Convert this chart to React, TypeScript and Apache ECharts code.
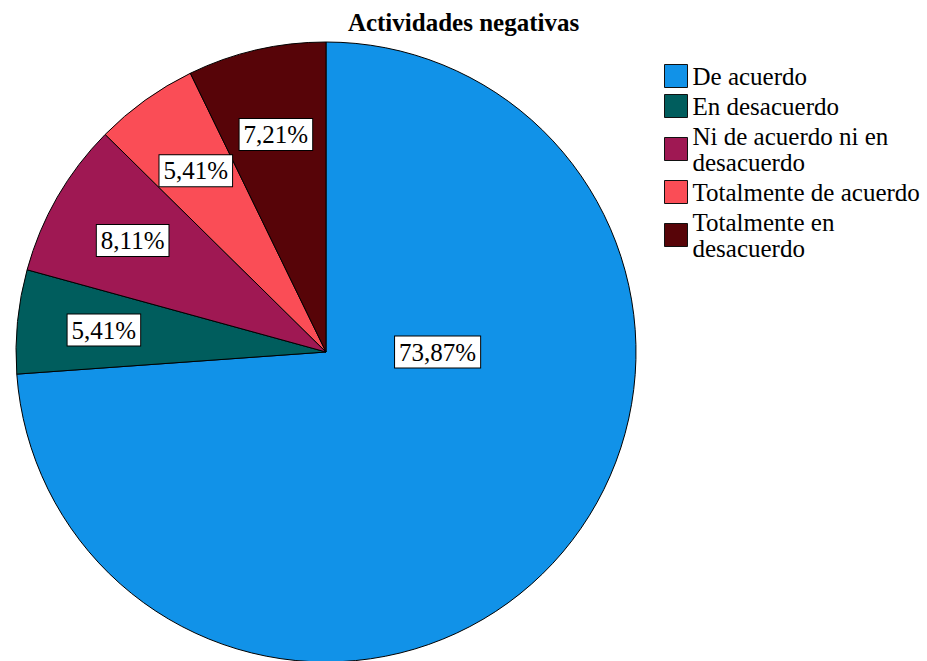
import React, { useEffect, useRef } from "react";
import * as echarts from "echarts";

const categories = [
  "De acuerdo",
  "En desacuerdo",
  "Ni de acuerdo ni en desacuerdo",
  "Totalmente de acuerdo",
  "Totalmente en desacuerdo",
];
const legendLabels = [
  "De acuerdo",
  "En desacuerdo",
  "Ni de acuerdo ni en\ndesacuerdo",
  "Totalmente de acuerdo",
  "Totalmente en\ndesacuerdo",
];
const percentages = [73.87, 5.41, 8.11, 5.41, 7.21];
const colors = ["#1192e8", "#005d5d", "#9f1853", "#fa4d56", "#570408"];

const FONT = "Liberation Serif";

export default function App() {
  const ref = useRef<HTMLDivElement>(null);

  useEffect(() => {
    if (!ref.current) return;
    const chart = echarts.init(ref.current, undefined, { renderer: "svg" });
    const cx = 326;
    const cy = 352;
    const R = 310;
    const total = percentages.reduce((a, b) => a + b, 0);
    const mids: number[] = [];
    let cum = 0;
    percentages.forEach((p) => {
      mids.push(((cum + p / 2) / total) * 360);
      cum += p;
    });
    const maxIdx = percentages.indexOf(Math.max(...percentages));

    chart.setOption({
      animation: false,
      textStyle: { fontFamily: FONT },
      title: {
        text: "Actividades negativas",
        left: "center",
        top: 9,
        padding: 0,
        textStyle: {
          fontFamily: FONT,
          fontSize: 25,
          fontWeight: "bold",
          color: "#000",
          lineHeight: 26,
        },
      },
      legend: {
        orient: "vertical",
        left: 664,
        top: 63,
        padding: 0,
        itemGap: 4,
        itemWidth: 23,
        itemHeight: 23,
        icon: "rect",
        data: categories,
        formatter: (name: string) => legendLabels[categories.indexOf(name)],
        itemStyle: { borderColor: "#111", borderWidth: 1 },
        textStyle: {
          fontFamily: FONT,
          fontSize: 25,
          lineHeight: 26,
          color: "#000",
        },
        selectedMode: false,
      },
      series: [
        {
          type: "pie",
          center: [cx, cy],
          radius: [0, R],
          startAngle: 90,
          clockwise: true,
          silent: true,
          emphasis: { disabled: true },
          itemStyle: { borderColor: "#000", borderWidth: 1 },
          label: {
            show: true,
            position: "inside",
            formatter: (p: any) =>
              p.value.toFixed(2).replace(".", ",") + "%",
            fontFamily: FONT,
            fontSize: 25,
            lineHeight: 27,
            color: "#000",
            backgroundColor: "#fff",
            borderColor: "#000",
            borderWidth: 1,
            padding: [2, 4, 2, 4],
          },
          labelLine: { show: false },
          labelLayout: (params: any) => {
            const i = params.dataIndex;
            let ang: number;
            let r: number;
            if (i === maxIdx) {
              ang = 90;
              r = 0.36 * R;
            } else {
              ang = mids[i];
              r = 0.72 * R;
            }
            const rad = (ang * Math.PI) / 180;
            return {
              x: cx + r * Math.sin(rad),
              y: cy - r * Math.cos(rad),
              align: "center",
              verticalAlign: "middle",
            };
          },
          data: categories.map((name, i) => ({
            name,
            value: percentages[i],
            itemStyle: { color: colors[i] },
          })),
        },
      ],
    });
    return () => chart.dispose();
  }, []);

  return (
    <div
      ref={ref}
      style={{
        position: "absolute",
        left: 0,
        top: 0,
        width: 927,
        height: 661,
        background: "#fff",
      }}
    />
  );
}
